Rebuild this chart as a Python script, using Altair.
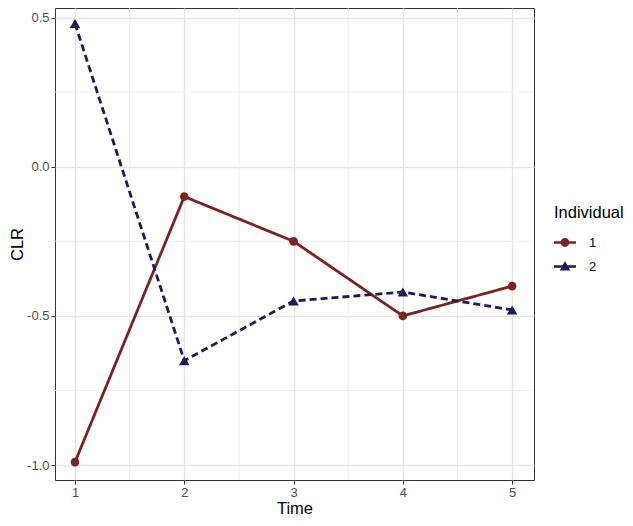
import altair as alt
import pandas as pd

time = [1, 2, 3, 4, 5]
clr_1 = [-0.99, -0.10, -0.25, -0.50, -0.40]
clr_2 = [0.48, -0.65, -0.45, -0.42, -0.48]
individuals = ["1", "2"]
colors = ["#7B2222", "#1B1B5E"]
x_ticks = [1, 2, 3, 4, 5]
y_ticks = [-1.0, -0.5, 0.0, 0.5]
x_minor = [1.5, 2.5, 3.5, 4.5]
y_minor = [-0.75, -0.25, 0.25]

df = pd.DataFrame({
    "Time": time * 2,
    "CLR": clr_1 + clr_2,
    "Individual": [individuals[0]] * len(time) + [individuals[1]] * len(time),
})
df_xm = pd.DataFrame({"xm": x_minor})
df_ym = pd.DataFrame({"ym": y_minor})

FONT = "Liberation Sans"
xs = alt.Scale(domain=[0.817, 5.2], nice=False, zero=False)
ys = alt.Scale(domain=[-1.050, 0.532], nice=False, zero=False)
x_axis = alt.Axis(values=x_ticks, title="Time", format="d", labelPadding=2, titlePadding=1)
y_axis = alt.Axis(values=y_ticks, title="CLR", labelPadding=2, titlePadding=1,
                  labelExpr="replace(format(datum.value, '.1f'), '\u2212', '-')")

p1 = ("M-1,-0.12L1,-0.12L1,0.12L-1,0.12Z"
      "M-0.4,0A0.4,0.4,0,1,1,0.4,0A0.4,0.4,0,1,1,-0.4,0Z")
p2 = ("M-1,-0.12L1,-0.12L1,0.12L-1,0.12Z"
      "M0,-0.5L0.48,0.36L-0.48,0.36Z")

legend = alt.Legend(
    orient="none", legendX=499, legendY=197, title="Individual",
    titleFontSize=16.5, titleColor="black", titleFont=FONT, titleFontWeight="normal",
    titlePadding=10, labelFontSize=13, labelColor="black", labelFont=FONT,
    labelOffset=13, symbolSize=484, rowPadding=6, padding=0,
    symbolOpacity=1, symbolStrokeWidth=0,
)
cscale = alt.Scale(domain=individuals, range=colors)

X = alt.X("Time:Q", scale=xs, axis=x_axis)
Y = alt.Y("CLR:Q", scale=ys, axis=y_axis)

minor_x = alt.Chart(df_xm).mark_rule(color="#EBEBEB", strokeWidth=0.8).encode(
    x=alt.X("xm:Q", scale=xs, axis=x_axis)
)
minor_y = alt.Chart(df_ym).mark_rule(color="#EBEBEB", strokeWidth=0.8).encode(
    y=alt.Y("ym:Q", scale=ys, axis=y_axis)
)
lines = alt.Chart(df).mark_line(strokeWidth=2.8).encode(
    x=X, y=Y,
    color=alt.Color("Individual:N", scale=cscale, legend=None),
    strokeDash=alt.StrokeDash("Individual:N", scale=alt.Scale(domain=individuals, range=[[1, 0], [7, 4]]), legend=None),
)
points1 = alt.Chart(df).transform_filter(alt.datum.Individual == individuals[0]).mark_point(
    shape="circle", filled=True, opacity=1, size=75
).encode(x=X, y=Y, color=alt.Color("Individual:N", scale=cscale, legend=None))
points2 = alt.Chart(df).transform_filter(alt.datum.Individual == individuals[1]).mark_point(
    shape="triangle-up", filled=True, opacity=1, size=110
).encode(x=X, y=Y, color=alt.Color("Individual:N", scale=cscale, legend=None))
legend_layer = alt.Chart(df).transform_calculate(Ind="datum.Individual").mark_point(
    filled=True, opacity=0
).encode(
    x=X, y=Y,
    color=alt.Color("Ind:N", scale=cscale, legend=legend),
    shape=alt.Shape("Ind:N", scale=alt.Scale(domain=individuals, range=[p1, p2]), legend=legend),
)

chart = alt.layer(minor_x, minor_y, lines, points1, points2, legend_layer).resolve_scale(
    color="independent", shape="independent"
).properties(
    width=479, height=472,
    autosize=alt.AutoSizeParams(type="none"),
    padding={"left": 47, "top": 0, "right": 91, "bottom": 37},
).configure_view(
    stroke="#333333", strokeWidth=1
).configure_axis(
    domain=False, tickColor="#333333", tickSize=4, tickWidth=1,
    labelColor="#4D4D4D", labelFontSize=13, labelFont=FONT,
    titleFont=FONT, titleFontSize=16.5, titleFontWeight="normal", titleColor="black",
    gridColor="#E6E6E6", gridWidth=1.5,
)

chart.save("out.html", embed_options={"renderer": "svg", "actions": False})
